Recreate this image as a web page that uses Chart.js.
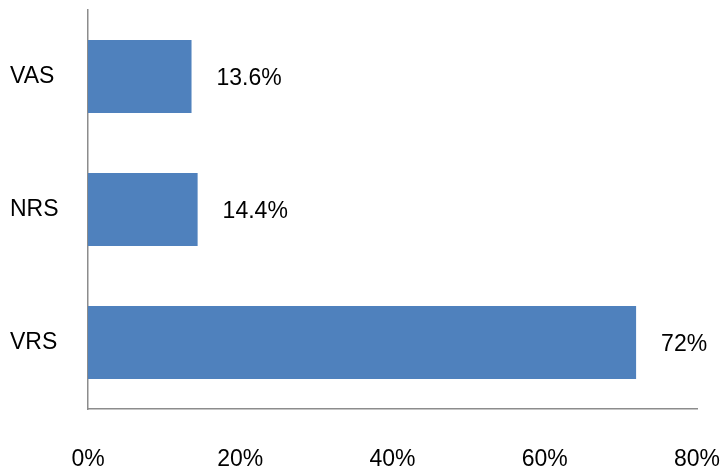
<!DOCTYPE html>
<html>
    <head>
        <title>Pain Scale Preference</title>
        <style>
            body
            {
                margin: 0;
                background: #ffffff;
            }

            #chartWrapper
            {
                width: 726px;
                height: 476px;
            }
        </style>
        <script src="https://cdn.jsdelivr.net/npm/chart.js"></script>
        <script>
            const scales = ["VAS", "NRS", "VRS"];
            const shares = [13.6, 14.4, 72];
            const shareLabels = ["13.6%", "14.4%", "72%"];
            const tickValues = [0, 20, 40, 60, 80];

            const fontFamily = "'Liberation Sans', Arial, sans-serif";

            // writes the percentage to the right of each bar
            const valueLabels = {
                id: "valueLabels",
                afterDatasetsDraw(chart)
                {
                    const ctx = chart.ctx;
                    const meta = chart.getDatasetMeta(0);
                    ctx.save();
                    ctx.font = "23px " + fontFamily;
                    ctx.fillStyle = "#000000";
                    ctx.textAlign = "left";
                    ctx.textBaseline = "middle";
                    meta.data.forEach((bar, i) => {
                        ctx.fillText(shareLabels[i], bar.x + 25, bar.y + 2);
                    });
                    ctx.restore();
                }
            };

            function init()
            {
                const chartHTML = document.getElementById("barChart");
                new Chart(chartHTML, {
                    type: "bar",
                    data: {
                        labels: scales,
                        datasets: [{
                            data: shares,
                            backgroundColor: "#4f81bd",
                            borderWidth: 0,
                            categoryPercentage: 0.55,
                            barPercentage: 1
                        }]
                    },
                    options: {
                        indexAxis: "y",
                        responsive: false,
                        animation: false,
                        layout: {
                            padding: {left: 10, top: 10, right: 29, bottom: 0}
                        },
                        plugins: {
                            legend: {display: false},
                            tooltip: {enabled: false}
                        },
                        scales: {
                            x: {
                                min: 0,
                                max: 80,
                                afterBuildTicks: (axis) => {
                                    axis.ticks = tickValues.map(v => ({value: v}));
                                },
                                afterFit: (axis) => {
                                    axis.height = 67;
                                    axis.paddingLeft = 0;
                                    axis.paddingRight = 0;
                                },
                                grid: {display: false, drawTicks: false},
                                border: {display: true, color: "#8c8c8c", width: 1.5},
                                ticks: {
                                    padding: 37,
                                    color: "#000000",
                                    font: {family: fontFamily, size: 23},
                                    callback: (v) => v + "%"
                                }
                            },
                            y: {
                                afterFit: (axis) => {
                                    axis.width = 78;
                                    axis.paddingTop = 0;
                                    axis.paddingBottom = 0;
                                },
                                grid: {display: false, drawTicks: false},
                                border: {display: true, color: "#8c8c8c", width: 1.5},
                                ticks: {
                                    crossAlign: "far",
                                    color: "#000000",
                                    font: {family: fontFamily, size: 23}
                                }
                            }
                        }
                    },
                    plugins: [valueLabels]
                });
            }
        </script>
    </head>
    <body onload="init();">
        <div id="chartWrapper">
            <canvas id="barChart" width="726" height="476"></canvas>
        </div>
    </body>
</html>
